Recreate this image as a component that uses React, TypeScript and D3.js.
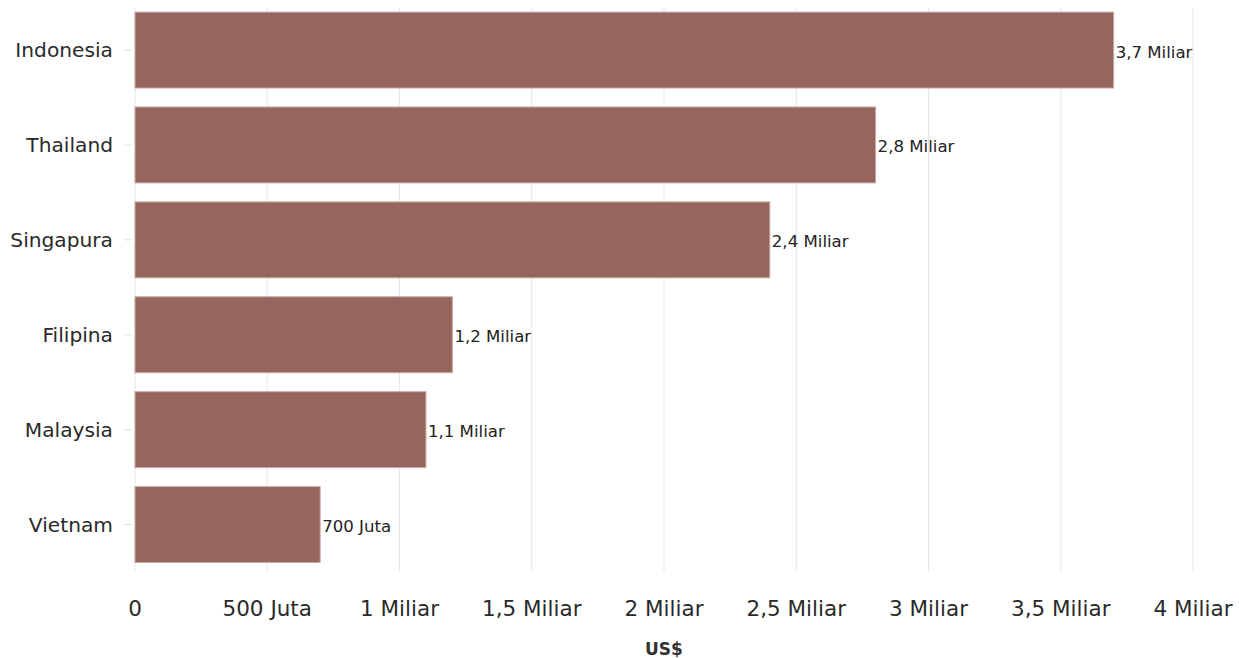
import React from "react";
import * as d3 from "d3";

const categories = ["Indonesia", "Thailand", "Singapura", "Filipina", "Malaysia", "Vietnam"];
const values = [3.7e9, 2.8e9, 2.4e9, 1.2e9, 1.1e9, 0.7e9];
const valueLabels = ["3,7 Miliar", "2,8 Miliar", "2,4 Miliar", "1,2 Miliar", "1,1 Miliar", "700 Juta"];
const tickValues = [0, 0.5e9, 1e9, 1.5e9, 2e9, 2.5e9, 3e9, 3.5e9, 4e9];
const tickLabels = ["0", "500 Juta", "1 Miliar", "1,5 Miliar", "2 Miliar", "2,5 Miliar", "3 Miliar", "3,5 Miliar", "4 Miliar"];
const axisTitle = "US$";

const W = 1239;
const H = 658;
const left = 135;
const right = 1193;
const top = 2.6;
const bottom = 572;

export default function App() {
  const x = d3.scaleLinear().domain([0, 4e9]).range([left, right]);
  const y = d3.scaleBand<string>().domain(categories).range([top, bottom]).paddingInner(0.2).paddingOuter(0.1);
  const font = "'DejaVu Sans', Verdana, sans-serif";
  return (
    <svg width={W} height={H} style={{ position: "absolute", left: 0, top: 0, fontFamily: font }}>
      <rect width={W} height={H} fill="#fff" />
      {tickValues.map((t, i) => (
        <line key={"g" + i} x1={x(t)} x2={x(t)} y1={8} y2={572} stroke="#e6e6e6" strokeWidth={1} />
      ))}
      {categories.map((c, i) => (
        <g key={c}>
          <rect
            x={x(0)}
            y={y(c)!}
            width={x(values[i]) - x(0)}
            height={y.bandwidth()}
            fill="#96665e"
            stroke="#c9aaa5"
            strokeWidth={1}
          />
          <line x1={x(0) - 10} x2={x(0) - 4} y1={y(c)! + y.bandwidth() / 2} y2={y(c)! + y.bandwidth() / 2} stroke="#ddd" />
          <text x={x(0) - 22} y={y(c)! + y.bandwidth() / 2} textAnchor="end" dominantBaseline="central" fontSize={20.2} fill="#2a2a2a">
            {c}
          </text>
          <text x={x(values[i]) + 2} y={y(c)! + y.bandwidth() / 2 + 2} dominantBaseline="central" fontSize={16.6} fill="#222">
            {valueLabels[i]}
          </text>
        </g>
      ))}
      {tickValues.map((t, i) => (
        <text key={"t" + i} x={x(t)} y={608} textAnchor="middle" dominantBaseline="central" fontSize={21.5} fill="#2a2a2a">
          {tickLabels[i]}
        </text>
      ))}
      <text x={(left + right) / 2} y={649} textAnchor="middle" dominantBaseline="central" fontSize={17} fontWeight="bold" fill="#333">
        {axisTitle}
      </text>
    </svg>
  );
}
